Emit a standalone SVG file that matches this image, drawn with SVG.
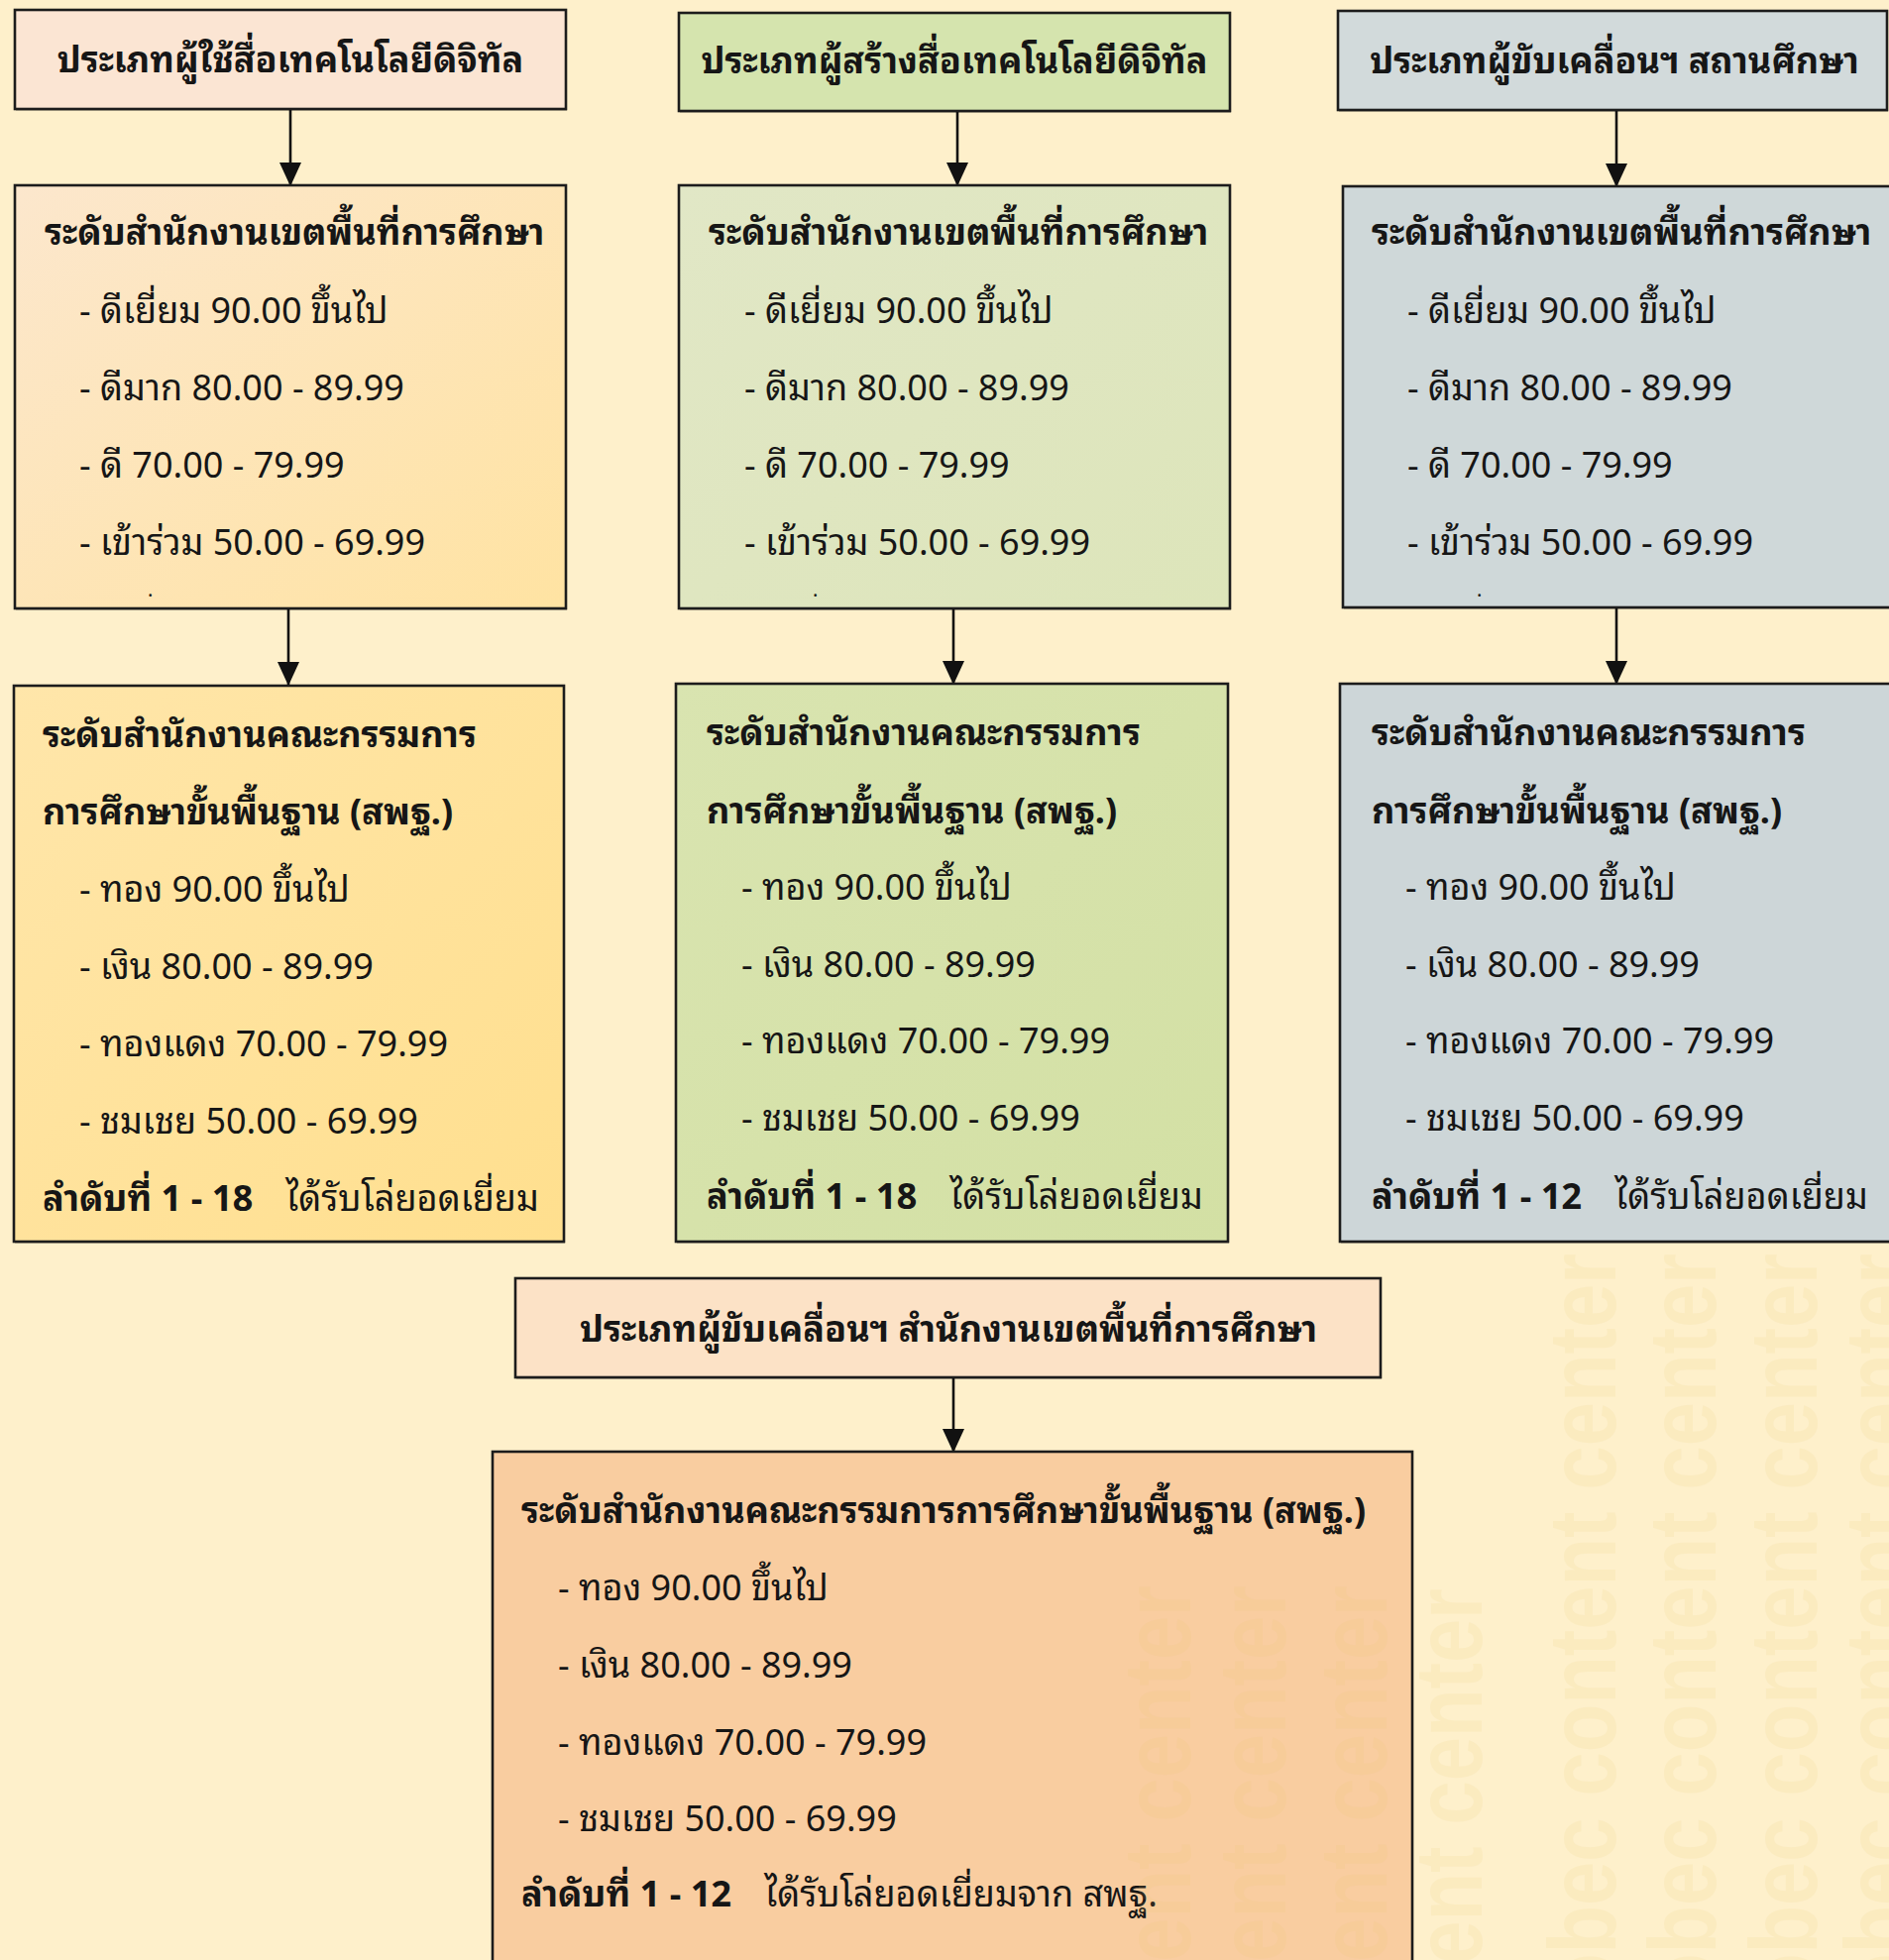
<svg xmlns="http://www.w3.org/2000/svg" width="1906" height="1978" viewBox="0 0 1906 1978">
<defs>
<style>
.t{font-family:"Noto Sans Thai Looped","Noto Sans Thai","Noto Sans","Leelawadee UI",Tahoma,"DejaVu Sans",sans-serif;font-size:36px;fill:#161616}
.b{font-weight:bold}
.h{text-anchor:middle}
.dot{font-size:20px}
.box{stroke:#1c1c1c;stroke-width:2.6}
.sh{fill:#000;opacity:0.22}
.con{stroke:#111;stroke-width:2.6;fill:none}
.wm{font-family:"Liberation Sans",Arial,sans-serif;font-weight:bold;font-size:96px;fill:#E8C668;opacity:0.11}
</style>
<marker id="arr" markerUnits="userSpaceOnUse" markerWidth="24" markerHeight="22" viewBox="0 0 24 22" refX="23" refY="11" orient="auto">
<path d="M0,0 L24,11 L0,22 z" fill="#111"/>
</marker>
<linearGradient id="gA2" x1="0" y1="0" x2="1" y2="1"><stop offset="0" stop-color="#FCE7CD"/><stop offset="1" stop-color="#FFE3A2"/></linearGradient>
<linearGradient id="gA3" x1="0" y1="0" x2="1" y2="1"><stop offset="0" stop-color="#FFE6AA"/><stop offset="1" stop-color="#FFDF8E"/></linearGradient>
<linearGradient id="gB2" x1="0" y1="0" x2="1" y2="1"><stop offset="0" stop-color="#E1E7C6"/><stop offset="1" stop-color="#DDE5BA"/></linearGradient>
<linearGradient id="gB3" x1="0" y1="0" x2="1" y2="1"><stop offset="0" stop-color="#D9E4B0"/><stop offset="1" stop-color="#D3E0A4"/></linearGradient>
</defs>
<rect x="0" y="0" width="1906" height="1978" fill="#FEF0CB"/>

<g id="connectors">
<line class="con" x1="293" y1="110" x2="293" y2="187" marker-end="url(#arr)"/>
<line class="con" x1="291" y1="614" x2="291" y2="691" marker-end="url(#arr)"/>
<line class="con" x1="966" y1="112" x2="966" y2="187" marker-end="url(#arr)"/>
<line class="con" x1="962" y1="614" x2="962" y2="690" marker-end="url(#arr)"/>
<line class="con" x1="1631" y1="111" x2="1631" y2="188" marker-end="url(#arr)"/>
<line class="con" x1="1631" y1="613" x2="1631" y2="690" marker-end="url(#arr)"/>
<line class="con" x1="962" y1="1390" x2="962" y2="1465" marker-end="url(#arr)"/>
</g>

<g id="nodeA1">
<rect class="sh" x="16" y="12" width="556" height="100"/>
<rect class="box" x="15" y="10" width="556" height="100" fill="#FBE5D3"/>
<text class="t b h" x="293" y="73">ประเภทผู้ใช้สื่อเทคโนโลยีดิจิทัล</text>
</g>

<g id="nodeA2">
<rect class="sh" x="16" y="189" width="556" height="427"/>
<rect class="box" x="15" y="187" width="556" height="427" fill="url(#gA2)"/>
<text class="t b" x="45" y="247">ระดับสำนักงานเขตพื้นที่การศึกษา</text>
<text class="t" x="80" y="326">- ดีเยี่ยม 90.00 ขึ้นไป</text>
<text class="t" x="80" y="404">- ดีมาก 80.00 - 89.99</text>
<text class="t" x="80" y="482">- ดี 70.00 - 79.99</text>
<text class="t" x="80" y="560">- เข้าร่วม 50.00 - 69.99</text>
<text class="t dot" x="149" y="602">.</text>
</g>

<g id="nodeA3">
<rect class="sh" x="15" y="694" width="555" height="561"/>
<rect class="box" x="14" y="692" width="555" height="561" fill="url(#gA3)"/>
<text class="t b" x="43" y="754">ระดับสำนักงานคณะกรรมการ</text>
<text class="t b" x="43" y="832">การศึกษาขั้นพื้นฐาน (สพฐ.)</text>
<text class="t" x="80" y="910">- ทอง 90.00 ขึ้นไป</text>
<text class="t" x="80" y="988">- เงิน 80.00 - 89.99</text>
<text class="t" x="80" y="1066">- ทองแดง 70.00 - 79.99</text>
<text class="t" x="80" y="1144">- ชมเชย 50.00 - 69.99</text>
<text class="t" x="43" y="1222"><tspan class="b">ลำดับที่ 1 - 18</tspan><tspan dx="33">ได้รับโล่ยอดเยี่ยม</tspan></text>
</g>

<g id="nodeB1">
<rect class="sh" x="686" y="15" width="556" height="99"/>
<rect class="box" x="685" y="13" width="556" height="99" fill="#D5E4AE"/>
<text class="t b h" x="963" y="74">ประเภทผู้สร้างสื่อเทคโนโลยีดิจิทัล</text>
</g>

<g id="nodeB2">
<rect class="sh" x="686" y="189" width="556" height="427"/>
<rect class="box" x="685" y="187" width="556" height="427" fill="url(#gB2)"/>
<text class="t b" x="715" y="247">ระดับสำนักงานเขตพื้นที่การศึกษา</text>
<text class="t" x="751" y="326">- ดีเยี่ยม 90.00 ขึ้นไป</text>
<text class="t" x="751" y="404">- ดีมาก 80.00 - 89.99</text>
<text class="t" x="751" y="482">- ดี 70.00 - 79.99</text>
<text class="t" x="751" y="560">- เข้าร่วม 50.00 - 69.99</text>
<text class="t dot" x="820" y="602">.</text>
</g>

<g id="nodeB3">
<rect class="sh" x="683" y="692" width="557" height="563"/>
<rect class="box" x="682" y="690" width="557" height="563" fill="url(#gB3)"/>
<text class="t b" x="713" y="752">ระดับสำนักงานคณะกรรมการ</text>
<text class="t b" x="713" y="831">การศึกษาขั้นพื้นฐาน (สพฐ.)</text>
<text class="t" x="748" y="908">- ทอง 90.00 ขึ้นไป</text>
<text class="t" x="748" y="986">- เงิน 80.00 - 89.99</text>
<text class="t" x="748" y="1063">- ทองแดง 70.00 - 79.99</text>
<text class="t" x="748" y="1141">- ชมเชย 50.00 - 69.99</text>
<text class="t" x="713" y="1220"><tspan class="b">ลำดับที่ 1 - 18</tspan><tspan dx="33">ได้รับโล่ยอดเยี่ยม</tspan></text>
</g>

<g id="nodeC1">
<rect class="sh" x="1351" y="13" width="554" height="100"/>
<rect class="box" x="1350" y="11" width="554" height="100" fill="#D2DADB"/>
<text class="t b h" x="1629" y="74">ประเภทผู้ขับเคลื่อนฯ สถานศึกษา</text>
</g>

<g id="nodeC2">
<rect class="sh" x="1356" y="190" width="560" height="425"/>
<rect class="box" x="1355" y="188" width="560" height="425" fill="#CFD8D9"/>
<text class="t b" x="1384" y="247">ระดับสำนักงานเขตพื้นที่การศึกษา</text>
<text class="t" x="1420" y="326">- ดีเยี่ยม 90.00 ขึ้นไป</text>
<text class="t" x="1420" y="404">- ดีมาก 80.00 - 89.99</text>
<text class="t" x="1420" y="482">- ดี 70.00 - 79.99</text>
<text class="t" x="1420" y="560">- เข้าร่วม 50.00 - 69.99</text>
<text class="t dot" x="1490" y="602">.</text>
</g>

<g id="nodeC3">
<rect class="sh" x="1353" y="692" width="562" height="563"/>
<rect class="box" x="1352" y="690" width="562" height="563" fill="#CDD6D8"/>
<text class="t b" x="1384" y="752">ระดับสำนักงานคณะกรรมการ</text>
<text class="t b" x="1384" y="831">การศึกษาขั้นพื้นฐาน (สพฐ.)</text>
<text class="t" x="1418" y="908">- ทอง 90.00 ขึ้นไป</text>
<text class="t" x="1418" y="986">- เงิน 80.00 - 89.99</text>
<text class="t" x="1418" y="1063">- ทองแดง 70.00 - 79.99</text>
<text class="t" x="1418" y="1141">- ชมเชย 50.00 - 69.99</text>
<text class="t" x="1384" y="1220"><tspan class="b">ลำดับที่ 1 - 12</tspan><tspan dx="33">ได้รับโล่ยอดเยี่ยม</tspan></text>
</g>

<g id="nodeD1">
<rect class="sh" x="521" y="1292" width="873" height="100"/>
<rect class="box" x="520" y="1290" width="873" height="100" fill="#FCE2C6"/>
<text class="t b h" x="957" y="1354">ประเภทผู้ขับเคลื่อนฯ สำนักงานเขตพื้นที่การศึกษา</text>
</g>

<g id="nodeD2">
<rect class="sh" x="498" y="1467" width="928" height="530"/>
<rect class="box" x="497" y="1465" width="928" height="530" fill="#F9CDA0"/>
<text class="t b" x="526" y="1537">ระดับสำนักงานคณะกรรมการการศึกษาขั้นพื้นฐาน (สพฐ.)</text>
<text class="t" x="563" y="1615">- ทอง 90.00 ขึ้นไป</text>
<text class="t" x="563" y="1693">- เงิน 80.00 - 89.99</text>
<text class="t" x="563" y="1771">- ทองแดง 70.00 - 79.99</text>
<text class="t" x="563" y="1848">- ชมเชย 50.00 - 69.99</text>
<text class="t" x="526" y="1924"><tspan class="b">ลำดับที่ 1 - 12</tspan><tspan dx="33">ได้รับโล่ยอดเยี่ยมจาก สพฐ.</tspan></text>
</g>

<g id="watermark">
<text class="wm" textLength="755" lengthAdjust="spacingAndGlyphs" transform="translate(1201,2355) rotate(-90)">obec content center</text>
<text class="wm" textLength="755" lengthAdjust="spacingAndGlyphs" transform="translate(1297,2355) rotate(-90)">obec content center</text>
<text class="wm" textLength="755" lengthAdjust="spacingAndGlyphs" transform="translate(1399,2355) rotate(-90)">obec content center</text>
<text class="wm" textLength="755" lengthAdjust="spacingAndGlyphs" transform="translate(1495,2358) rotate(-90)">obec content center</text>
<text class="wm" textLength="755" lengthAdjust="spacingAndGlyphs" transform="translate(1630,2020) rotate(-90)">obec content center</text>
<text class="wm" textLength="755" lengthAdjust="spacingAndGlyphs" transform="translate(1731,2020) rotate(-90)">obec content center</text>
<text class="wm" textLength="755" lengthAdjust="spacingAndGlyphs" transform="translate(1833,2020) rotate(-90)">obec content center</text>
<text class="wm" textLength="755" lengthAdjust="spacingAndGlyphs" transform="translate(1929,2020) rotate(-90)">obec content center</text>
</g>
</svg>
